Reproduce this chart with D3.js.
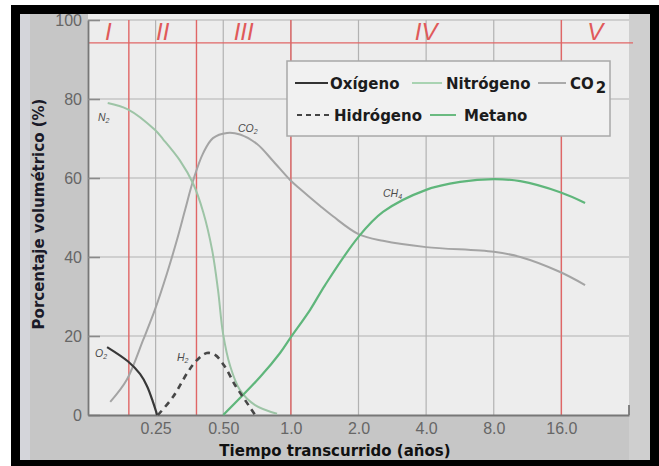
<!DOCTYPE html>
<html>
<head>
<meta charset="utf-8">
<script src="https://cdn.jsdelivr.net/npm/d3@7"></script>
<style>
  body { margin: 0; background: #fff; }
  svg { display: block; }
</style>
</head>
<body>
<div id="chart"></div>
<script>
// ---- data (x = years, y = % by volume) ----
var oxigeno = [[0.152, 17.2], [0.188, 13.6], [0.213, 10.4], [0.229, 7.3], [0.243, 3.4], [0.254, 0]];
var hidrogeno = [[0.256, 0], [0.299, 4.6], [0.348, 10.9], [0.382, 13.9], [0.423, 15.7], [0.460, 15.2],
                 [0.509, 12.2], [0.564, 7.6], [0.625, 3.8], [0.693, 0]];
var nitrogeno = [[0.153, 79.0], [0.188, 77.4], [0.248, 72.2], [0.270, 69.8], [0.321, 64.4], [0.367, 58.6],
                 [0.407, 51.4], [0.446, 41.8], [0.474, 31.6], [0.499, 20.6], [0.536, 12.5], [0.594, 6.3],
                 [0.693, 2.5], [0.868, 0.3]];
var co2 = [[0.157, 3.3], [0.186, 8.9], [0.220, 19.0], [0.248, 26.6], [0.281, 35.9], [0.311, 44.3],
           [0.338, 51.9], [0.367, 59.3], [0.407, 66.3], [0.450, 70.1], [0.520, 71.4], [0.594, 71.0],
           [0.707, 68.6], [0.833, 64.3], [0.992, 59.5], [1.10, 57.2], [1.35, 52.9], [1.54, 50.3],
           [2.0, 45.8], [2.57, 44.1], [4.0, 42.5], [8.0, 41.3], [10.5, 40.0], [15.8, 36.2], [20.4, 32.9]];
var metano = [[0.5, 0], [0.729, 9.6], [0.895, 15.7], [1.0, 19.7], [1.22, 26.7], [1.42, 32.9], [2.0, 45.1],
              [2.57, 51.4], [4.0, 57.0], [5.67, 59.0], [8.0, 59.7], [10.5, 59.2], [15.8, 56.4], [20.4, 53.7]];

var xTicks = [0.25, 0.5, 1, 2, 4, 8, 16];
var xTickLabels = ["0.25", "0.50", "1.0", "2.0", "4.0", "8.0", "16.0"];
var yTicks = [0, 20, 40, 60, 80, 100];
var xDomain = [0.125, 32];

var phaseBounds = [0.19, 0.38, 1.0, 16.0];
var phaseLabels = ["I", "II", "III", "IV", "V"];
var phaseLineY = 94.2;

var W = 659, H = 466;
var svg = d3.select("#chart").append("svg")
    .attr("width", W)
    .attr("height", H);

// frame
svg.append("rect").attr("x", 11).attr("y", 5).attr("width", 648).attr("height", 461).attr("fill", "#000");
svg.append("rect").attr("x", 20).attr("y", 14).attr("width", 630).attr("height", 446).attr("fill", "#c6c6c6");
svg.append("rect").attr("x", 20).attr("y", 14).attr("width", 10).attr("height", 446).attr("fill", "#d4d5da");
svg.append("rect").attr("x", 629).attr("y", 14).attr("width", 21).attr("height", 446).attr("fill", "#cfcfcf");

// scales
var x = d3.scaleLog().base(2).domain(xDomain).range([88, 629]);
var y = d3.scaleLinear().domain([0, 100]).range([415, 20]);

// plot background
svg.append("rect")
    .attr("x", x.range()[0]).attr("y", 14)
    .attr("width", x.range()[1] - x.range()[0]).attr("height", y(0) - 14)
    .attr("fill", "#ededed");

// grid
svg.append("g").selectAll("line").data(xTicks).enter().append("line")
    .attr("x1", function(d) { return x(d); }).attr("x2", function(d) { return x(d); })
    .attr("y1", y(100)).attr("y2", y(0))
    .attr("stroke", "#b2b2b2").attr("stroke-width", 1.2);
svg.append("g").selectAll("line").data(yTicks.slice(1)).enter().append("line")
    .attr("x1", x.range()[0]).attr("x2", x.range()[1])
    .attr("y1", function(d) { return y(d); }).attr("y2", function(d) { return y(d); })
    .attr("stroke", "#b2b2b2").attr("stroke-width", 1.2);

// phase lines (red)
var red = "#e06666";
svg.append("g").selectAll("line").data(phaseBounds).enter().append("line")
    .attr("x1", function(d) { return x(d); }).attr("x2", function(d) { return x(d); })
    .attr("y1", y(100)).attr("y2", y(0))
    .attr("stroke", red).attr("stroke-width", 1.4);
svg.append("line")
    .attr("x1", x.range()[0]).attr("x2", x.range()[1] + 4)
    .attr("y1", y(phaseLineY)).attr("y2", y(phaseLineY))
    .attr("stroke", red).attr("stroke-width", 1.4);

var edges = [xDomain[0]].concat(phaseBounds, [xDomain[1]]);
svg.append("g").selectAll("text").data(phaseLabels).enter().append("text")
    .attr("x", function(d, i) { return x(Math.sqrt(edges[i] * edges[i + 1])); })
    .attr("y", 40)
    .attr("text-anchor", "middle")
    .attr("font-family", "Liberation Sans, Arial, sans-serif")
    .attr("font-style", "italic")
    .attr("font-size", 24)
    .attr("fill", "#e05a5a")
    .text(function(d) { return d; });

// axes
var yAxis = svg.append("g")
    .attr("transform", "translate(" + x.range()[0] + ",0)")
    .call(d3.axisLeft(y).tickValues(yTicks).tickSize(-12).tickSizeOuter(0).tickPadding(6));
var xAxis = svg.append("g")
    .attr("transform", "translate(0," + y(0) + ")")
    .call(d3.axisBottom(x).tickValues(xTicks).tickSize(0).tickSizeOuter(0).tickPadding(8)
        .tickFormat(function(d, i) { return xTickLabels[i]; }));
[yAxis, xAxis].forEach(function(a) {
    a.select(".domain").attr("stroke", "#777").attr("stroke-width", 1.8);
    a.selectAll(".tick line").attr("stroke", "#8a8a8a").attr("stroke-width", 1.6);
    a.selectAll("text")
        .attr("font-family", "Liberation Sans, Arial, sans-serif")
        .attr("font-size", 16)
        .attr("fill", "#666");
});
svg.append("line")
    .attr("x1", x.range()[1]).attr("x2", x.range()[1])
    .attr("y1", y(0)).attr("y2", y(0) - 10)
    .attr("stroke", "#777").attr("stroke-width", 1.8);

// axis titles
svg.append("text")
    .attr("x", 335).attr("y", 456)
    .attr("text-anchor", "middle")
    .attr("font-family", "DejaVu Sans, Verdana, sans-serif")
    .attr("font-weight", "bold").attr("font-size", 15)
    .attr("fill", "#111")
    .text("Tiempo transcurrido (años)");
svg.append("text")
    .attr("transform", "translate(44,214) rotate(-90)")
    .attr("text-anchor", "middle")
    .attr("font-family", "DejaVu Sans, Verdana, sans-serif")
    .attr("font-weight", "bold").attr("font-size", 15)
    .attr("fill", "#1a1a28")
    .text("Porcentaje volumétrico (%)");

// curves
var line = d3.line()
    .x(function(d) { return x(d[0]); })
    .y(function(d) { return y(d[1]); })
    .curve(d3.curveCatmullRom.alpha(0.5));

var series = [
    {data: co2, color: "#a4a4a4", width: 2, dash: null},
    {data: nitrogeno, color: "#9dc4a6", width: 2, dash: null},
    {data: metano, color: "#5fb67b", width: 2.2, dash: null},
    {data: oxigeno, color: "#383838", width: 2.2, dash: null},
    {data: hidrogeno, color: "#474747", width: 2.6, dash: "6,5"}
];
series.forEach(function(s) {
    svg.append("path")
        .datum(s.data)
        .attr("d", line)
        .attr("fill", "none")
        .attr("stroke", s.color)
        .attr("stroke-width", s.width)
        .attr("stroke-dasharray", s.dash);
});

// curve labels
var curveLabels = [
    {base: "N", sub: "2", px: 98, py: 121},
    {base: "CO", sub: "2", px: 238, py: 132},
    {base: "O", sub: "2", px: 95, py: 357},
    {base: "H", sub: "2", px: 177, py: 361},
    {base: "CH", sub: "4", px: 383, py: 197}
];
curveLabels.forEach(function(l) {
    var t = svg.append("text")
        .attr("x", l.px).attr("y", l.py)
        .attr("font-family", "Liberation Sans, Arial, sans-serif")
        .attr("font-style", "italic").attr("font-size", 10.5)
        .attr("fill", "#4a4a4a");
    t.append("tspan").text(l.base);
    t.append("tspan").attr("dy", 2).attr("font-size", 7).text(l.sub);
});

// legend
var lg = svg.append("g");
lg.append("rect")
    .attr("x", 287).attr("y", 61).attr("width", 323).attr("height", 75)
    .attr("fill", "#f1f1f1").attr("stroke", "#a8a8a8").attr("stroke-width", 1.5);
var legendItems = [
    {label: "Oxígeno", color: "#333", dash: null, x1: 295, x2: 328, tx: 330, row: 0},
    {label: "Nitrógeno", color: "#a9d3b2", dash: null, x1: 412, x2: 442, tx: 446, row: 0},
    {label: "CO", sub: "2", color: "#aaa", dash: null, x1: 538, x2: 566, tx: 570, row: 0},
    {label: "Hidrógeno", color: "#444", dash: "5,4", x1: 297, x2: 330, tx: 334, row: 1},
    {label: "Metano", color: "#6aba80", dash: null, x1: 430, x2: 456, tx: 464, row: 1}
];
var rowY = [83, 115];
legendItems.forEach(function(it) {
    lg.append("line")
        .attr("x1", it.x1).attr("x2", it.x2)
        .attr("y1", rowY[it.row]).attr("y2", rowY[it.row])
        .attr("stroke", it.color).attr("stroke-width", 2)
        .attr("stroke-dasharray", it.dash);
    var t = lg.append("text")
        .attr("x", it.tx).attr("y", rowY[it.row] + 5.5)
        .attr("font-family", "DejaVu Sans, Verdana, sans-serif")
        .attr("font-weight", "bold").attr("font-size", 15)
        .attr("fill", "#1c1c1c");
    t.append("tspan").text(it.label);
    if (it.sub) t.append("tspan").attr("dy", 4).attr("dx", 2).text(it.sub);
});
</script>
</body>
</html>
